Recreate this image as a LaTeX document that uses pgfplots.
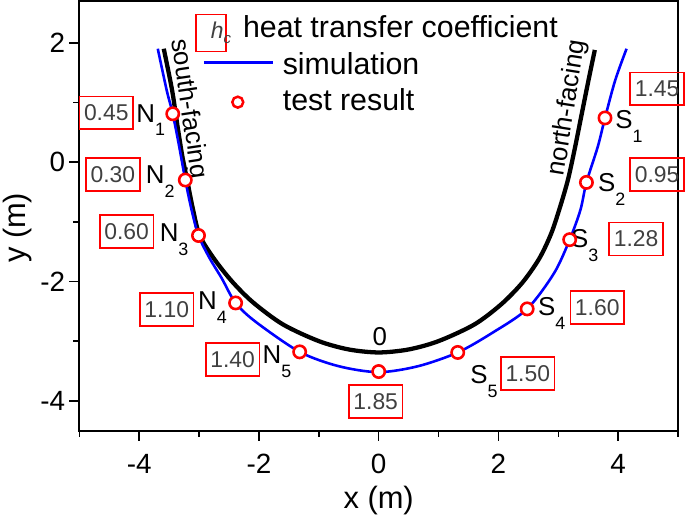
\documentclass[border=0pt]{standalone}
\usepackage{pgfplots}
\pgfplotsset{compat=1.18}
\usepackage{fontspec}
\setmainfont{Liberation Sans}
\definecolor{valgray}{HTML}{404040}
\newcommand\lab[2]{#1\raisebox{-14pt}{\fontsize{18}{18}\selectfont #2}}
\begin{document}
\begin{tikzpicture}
\begin{axis}[
  scale only axis, width=602pt, height=432pt,
  xmin=-5, xmax=5, ymin=-4.5, ymax=2.7,
  xtick={-4,-2,0,2,4}, xticklabels={-4,-2,0,2,4},
  ytick={-4,-2,0,2}, yticklabels={-4,-2,0,2},
  minor xtick={-5,-3,-1,1,3,5}, minor ytick={-3,-1,1},
  xtick pos=bottom, ytick pos=left, tick align=outside,
  major tick length=10pt, minor tick length=6pt,
  every tick/.style={black, line width=1.5pt},
  axis line style={line width=1.8pt},
  tick label style={font=\fontsize{28}{30}\selectfont},
  xticklabel style={anchor=north, inner sep=0pt, text height=20pt, text depth=0pt, yshift=-13pt},
  yticklabel style={anchor=east, inner sep=0pt, xshift=-4pt},
  xlabel={x (m)}, ylabel={y (m)},
  label style={font=\fontsize{31}{33}\selectfont},
  xlabel style={at={(axis description cs:0.5,-0.162)}, anchor=center},
  ylabel style={at={(axis description cs:-0.103,0.472)}, anchor=center},
  clip=false,
  legend cell align=left,
  legend style={at={(axis cs:-2.94,2.483)}, anchor=north west, draw=none, fill=none,
    inner sep=0pt, outer sep=0pt, row sep=4.5pt, column sep=7pt,
    font=\fontsize{30.5}{32}\selectfont,
    nodes={inner sep=2pt, text height=22pt, text depth=6pt}},
]
\addlegendimage{legend image code/.code={
  \draw[overlay, red, line width=1.5pt] (-8pt,-21.7pt) rectangle (22pt,15.3pt);
  \node[overlay, inner sep=0pt, text height=, text depth=, text=valgray, font=\fontsize{23}{23}\selectfont] at (7pt,-3.2pt) {\textit{h}\raisebox{-5pt}{\fontsize{15}{15}\selectfont\textit{c}}};}}
\addlegendentry{\hspace{-40pt}heat transfer coefficient}
\addlegendimage{legend image code/.code={\draw[blue, line width=2.6pt] (0pt,3.6pt) -- (69pt,3.6pt);}}
\addlegendentry{simulation}
\addlegendimage{legend image code/.code={\draw[red, line width=2.5pt, fill=white] (34pt,0.3pt) circle (5.5pt);}}
\addlegendentry{test result}

% black curve (h_c = 0 line)
\addplot[black, line width=4.3pt, smooth, forget plot] coordinates {
(-3.59,1.90) (-3.45,1.20) (-3.36,0.60) (-3.28,0.10) (-3.20,-0.30) (-3.10,-0.80)
(-2.99,-1.23) (-2.75,-1.62) (-2.45,-2.00) (-2.10,-2.35) (-1.60,-2.72) (-1.00,-3.00)
(-0.50,-3.14) (0,-3.19) (0.50,-3.14) (1.00,-3.00) (1.60,-2.72) (2.05,-2.38)
(2.40,-2.02) (2.68,-1.62) (2.88,-1.20) (3.03,-0.75) (3.16,-0.30) (3.27,0.20)
(3.38,0.75) (3.50,1.35) (3.61,1.88)};
% simulation
\addplot[blue, line width=2.6pt, smooth, forget plot] coordinates {
(-3.69,1.90) (-3.54,1.20) (-3.44,0.81) (-3.33,0.25) (-3.23,-0.30) (-3.13,-0.78)
(-3.01,-1.23) (-2.83,-1.60) (-2.62,-1.95) (-2.39,-2.36) (-2.05,-2.68) (-1.32,-3.18)
(-0.67,-3.42) (0,-3.52) (0.66,-3.42) (1.32,-3.19) (1.90,-2.86) (2.48,-2.46)
(2.93,-1.86) (3.19,-1.30) (3.37,-0.80) (3.47,-0.34) (3.66,0.26) (3.78,0.74)
(3.95,1.37) (4.14,1.90)};
% test results
\addplot[only marks, mark=*, mark size=6.2pt, mark options={draw=red, fill=white, line width=2.6pt}, forget plot] coordinates {
(-3.44,0.81) (-3.23,-0.30) (-3.01,-1.23) (-2.39,-2.36) (-1.32,-3.18) (0,-3.51)
(1.32,-3.19) (2.48,-2.46) (3.19,-1.30) (3.47,-0.34) (3.78,0.74)};

% value boxes
\tikzset{vbox/.style={draw=red, line width=1.6pt, text=valgray, font=\fontsize{23}{23}\selectfont,
  minimum width=54pt, minimum height=33pt, inner sep=0pt, anchor=center}}
\node[vbox] at (axis cs:-4.55,0.825) {0.45};
\node[vbox] at (axis cs:-4.44,-0.21) {0.30};
\node[vbox] at (axis cs:-4.21,-1.16) {0.60};
\node[vbox] at (axis cs:-3.54,-2.47) {1.10};
\node[vbox] at (axis cs:-2.44,-3.31) {1.40};
\node[vbox] at (axis cs:-0.05,-4.01) {1.85};
\node[vbox] at (axis cs:2.49,-3.54) {1.50};
\node[vbox] at (axis cs:3.65,-2.44) {1.60};
\node[vbox] at (axis cs:4.30,-1.29) {1.28};
\node[vbox] at (axis cs:4.65,-0.21) {0.95};
\node[vbox] at (axis cs:4.65,1.23) {1.45};

% point labels
\tikzset{plab/.style={anchor=base west, inner sep=0pt, font=\fontsize{26}{26}\selectfont}}
\node[plab] at (axis cs:-4.05,0.672) {\lab{N}{1}};
\node[plab] at (axis cs:-3.89,-0.355) {\lab{N}{2}};
\node[plab] at (axis cs:-3.66,-1.328) {\lab{N}{3}};
\node[plab] at (axis cs:-3.02,-2.467) {\lab{N}{4}};
\node[plab] at (axis cs:-1.94,-3.383) {\lab{N}{5}};
\node[plab] at (axis cs:1.53,-3.717) {\lab{S}{5}};
\node[plab] at (axis cs:2.66,-2.578) {\lab{S}{4}};
\node[plab] at (axis cs:3.21,-1.438) {\lab{S}{3}};
\node[plab] at (axis cs:3.66,-0.495) {\lab{S}{2}};
\node[plab] at (axis cs:3.95,0.561) {\lab{S}{1}};

\node[font=\fontsize{26}{26}\selectfont, inner sep=0pt] at (axis cs:0.017,-2.917) {0};
\node[font=\fontsize{26}{26}\selectfont, inner sep=0pt, rotate=-81.5] at (axis cs:-3.18,0.895) {south-facing};
\node[font=\fontsize{26}{26}\selectfont, inner sep=0pt, rotate=81] at (axis cs:3.16,0.91) {north-facing};
\end{axis}
\path (current axis.south west) ++(-76pt,-84pt) coordinate (bbA);
\path (current axis.north east) ++(7pt,1pt) coordinate (bbB);
\path (bbA) rectangle (bbB);
\end{tikzpicture}
\end{document}
